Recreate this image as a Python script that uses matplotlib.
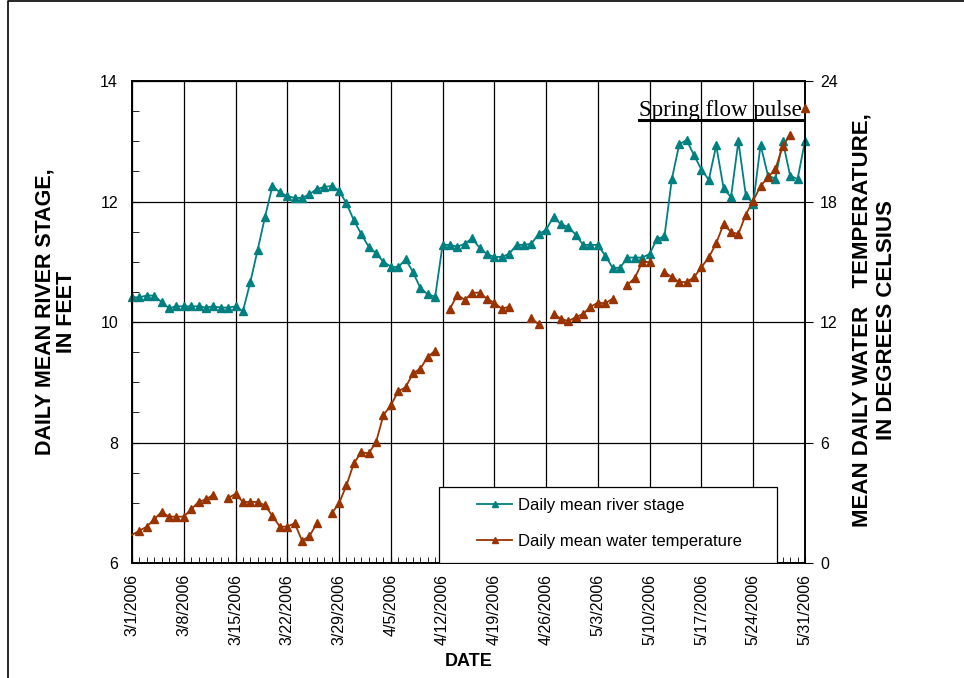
import matplotlib
matplotlib.use('Agg')
import matplotlib.pyplot as plt
import matplotlib.dates as mdates
from matplotlib.ticker import MultipleLocator, FixedLocator, FuncFormatter
from matplotlib.patches import Rectangle
from matplotlib.lines import Line2D
import numpy as np
import pandas as pd

plt.rcParams['font.family'] = ['Liberation Sans', 'DejaVu Sans']

# daily values, 3/1/2006 .. 5/31/2006
dates = pd.date_range('2006-03-01', '2006-05-31', freq='D')
tick_dates = pd.date_range('2006-03-01', '2006-05-31', freq='7D')

# daily mean river stage, feet
stage = [10.41, 10.41, 10.44, 10.44, 10.33, 10.23, 10.26, 10.26, 10.26, 10.26,
         10.24, 10.26, 10.24, 10.24, 10.26, 10.18, 10.66, 11.20, 11.75, 12.26,
         12.15, 12.09, 12.06, 12.06, 12.12, 12.21, 12.24, 12.26, 12.18, 11.97,
         11.69, 11.46, 11.25, 11.14, 11.00, 10.92, 10.91, 11.04, 10.83, 10.56,
         10.46, 10.42, 11.28, 11.28, 11.25, 11.30, 11.39, 11.23, 11.13, 11.08,
         11.08, 11.13, 11.28, 11.28, 11.30, 11.46, 11.53, 11.75, 11.62, 11.58,
         11.45, 11.28, 11.28, 11.28, 11.10, 10.90, 10.90, 11.07, 11.07, 11.07,
         11.13, 11.38, 11.42, 12.37, 12.95, 13.02, 12.77, 12.53, 12.36, 12.93,
         12.22, 12.07, 13.00, 12.11, 11.96, 12.94, 12.43, 12.38, 13.00, 12.43,
         12.37, 13.00]

# mean daily water temperature, deg C (nan = missing day)
nan = np.nan
temp = [1.40, 1.61, 1.81, 2.18, 2.54, 2.31, 2.31, 2.31, 2.67, 3.04,
        3.17, 3.40, nan, 3.24, 3.44, 3.04, 3.04, 3.04, 2.87, 2.34,
        1.81, 1.81, 1.98, 1.11, 1.34, 1.98, nan, 2.47, 2.97, 3.87,
        4.96, 5.51, 5.46, 6.01, 7.36, 7.85, 8.55, 8.75, 9.45, 9.68,
        10.27, 10.57, nan, 12.66, 13.36, 13.10, 13.46, 13.46, 13.16, 12.96,
        12.66, 12.76, nan, nan, 12.19, 11.88, nan, 12.40, 12.17, 12.04,
        12.24, 12.40, 12.76, 12.96, 12.93, 13.16, nan, 13.86, 14.19, 14.99,
        14.99, nan, 14.49, 14.23, 13.99, 13.99, 14.23, 14.73, 15.22, 15.92,
        16.88, 16.48, 16.38, 17.35, 18.04, 18.77, 19.21, 19.61, 20.77, 21.31,
        nan, 22.64]

stage_color = '#008080'
temp_color = '#993300'

fig = plt.figure(figsize=(9.64, 6.78), dpi=100)
ax = fig.add_axes([0.1369, 0.1696, 0.6981, 0.7109])
ax2 = ax.twinx()

ax.plot(dates, stage, color=stage_color, marker='^', ms=6, lw=1.3, clip_on=False, zorder=3)
ax2.plot(dates, temp, color=temp_color, marker='^', ms=6, lw=1.3, clip_on=False, zorder=3,
         markevery=slice(1, None))

ax.set_xlim(dates[0], dates[-1])
ax.set_ylim(6, 14)
ax2.set_ylim(0, 24)

# x axis: weekly labels, daily minor ticks
ax.xaxis.set_major_locator(FixedLocator(mdates.date2num(tick_dates)))
ax.xaxis.set_minor_locator(mdates.DayLocator())
ax.xaxis.set_major_formatter(FuncFormatter(
    lambda v, p: '%d/%d/%d' % (mdates.num2date(v).month, mdates.num2date(v).day, mdates.num2date(v).year)))
ax.tick_params(axis='x', which='both', direction='in', length=4, labelsize=11.5, pad=8, labelrotation=90)

ax.yaxis.set_major_locator(MultipleLocator(2))
ax.yaxis.set_minor_locator(MultipleLocator(0.5))
ax.tick_params(axis='y', which='both', direction='in', length=5, labelsize=11.5, pad=10)

ax2.yaxis.set_major_locator(MultipleLocator(6))
ax2.tick_params(axis='y', direction='out', length=6, labelsize=11.5, pad=5)

ax.grid(True, which='major', color='black', lw=0.9)
for a in (ax, ax2):
    for s in a.spines.values():
        s.set_linewidth(1.2)

# axis titles
fig.text(0.058, 0.5406, 'DAILY MEAN RIVER STAGE,\nIN FEET', rotation=90, ha='center', va='center',
         fontsize=15.5, fontweight='bold', multialignment='center', linespacing=1.05)
fig.text(0.9066, 0.528, 'MEAN DAILY WATER   TEMPERATURE,\nIN DEGREES CELSIUS', rotation=90,
         ha='center', va='center', fontsize=16, fontweight='bold', multialignment='center', linespacing=1.2)
fig.text(0.486, 0.0236, 'DATE', ha='center', va='center', fontsize=13, fontweight='bold')

# legend box
ax2.add_patch(Rectangle((0.456, 0), 0.502, 0.158, transform=ax2.transAxes, facecolor='white',
                        edgecolor='black', lw=0.9, zorder=5))
handles = [Line2D([], [], color=stage_color, marker='^', ms=5, lw=1.3),
           Line2D([], [], color=temp_color, marker='^', ms=5, lw=1.3)]
leg = ax2.legend(handles, ['Daily mean river stage', 'Daily mean water temperature'],
                 loc='center left', bbox_to_anchor=(0.5007, 0.082), frameon=False, fontsize=12,
                 borderpad=0, handlelength=2.1, handletextpad=0.35, labelspacing=1.3)
leg.set_zorder(6)

# annotation
t = ax2.text(0.9955, 0.927, 'Spring flow pulse', transform=ax2.transAxes, ha='right', va='baseline',
             fontsize=16.5, family='Liberation Serif', zorder=7)
fig.canvas.draw()
bb = t.get_window_extent()
fig.add_artist(Line2D([bb.x0, bb.x1 + 2], [bb.y0 + 1, bb.y0 + 1], color='black', lw=2.2,
                      transform=None))

# page frame
fig.add_artist(Line2D([8 / 964, 8 / 964, 1], [0, 1 - 1 / 678, 1 - 1 / 678], color='black', lw=1.2,
                      transform=fig.transFigure))

fig.savefig('out.png', dpi=100)
